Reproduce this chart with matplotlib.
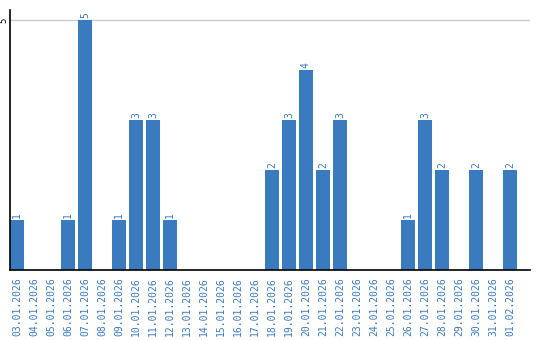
import matplotlib
matplotlib.use("Agg")
import matplotlib.pyplot as plt

dates = ["03.01.2026", "04.01.2026", "05.01.2026", "06.01.2026", "07.01.2026",
         "08.01.2026", "09.01.2026", "10.01.2026", "11.01.2026", "12.01.2026",
         "13.01.2026", "14.01.2026", "15.01.2026", "16.01.2026", "17.01.2026",
         "18.01.2026", "19.01.2026", "20.01.2026", "21.01.2026", "22.01.2026",
         "23.01.2026", "24.01.2026", "25.01.2026", "26.01.2026", "27.01.2026",
         "28.01.2026", "29.01.2026", "30.01.2026", "31.01.2026", "01.02.2026"]
values = [1, 0, 0, 1, 5, 0, 1, 3, 3, 1, 0, 0, 0, 0, 0,
          2, 3, 4, 2, 3, 0, 0, 0, 1, 3, 2, 0, 2, 0, 2]

blue = "#3a7bbf"
fig = plt.figure(figsize=(5.4, 3.4), dpi=100)
ax = fig.add_axes([10/540, 70/340, 520/540, 260/340])
x = list(range(len(dates)))
bw = 14/17
ax.bar(x, values, width=bw, color=blue, zorder=2)
for xi, v in zip(x, values):
    if v > 0:
        ax.text(xi, v + 0.04, str(v), rotation=90, ha="center", va="bottom",
                color=blue, fontsize=7, family="DejaVu Sans Mono")
ax.set_xlim(-bw/2, 30.18)
ax.set_ylim(0, 5.2)
ax.set_xticks(x)
ax.set_xticklabels(dates, rotation=90, color=blue, fontsize=7, family="DejaVu Sans Mono")
ax.set_yticks([5])
ax.set_yticklabels(["5"], rotation=90, fontsize=6.5, family="DejaVu Sans Mono", va="center")
ax.tick_params(axis="x", length=0, pad=5)
ax.tick_params(axis="y", length=0, pad=1)
ax.axhline(5, color="#cccccc", lw=1, zorder=1)
for s in ["top", "right"]:
    ax.spines[s].set_visible(False)
ax.spines["left"].set_linewidth(1.2)
ax.spines["bottom"].set_linewidth(1.2)
fig.savefig("out.png", dpi=100)
